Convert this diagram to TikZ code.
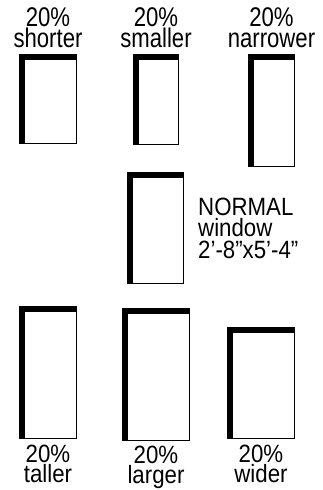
\documentclass[tikz,border=0pt]{standalone}
\usepackage{fontspec}
\usepackage{tikz}
\usetikzlibrary{positioning}

\newfontfamily\tallsans[FakeStretch=0.82]{Liberation Sans}
\newfontfamily\lowsans[FakeStretch=0.89]{Liberation Sans}

\tikzset{
  pane/.style={draw, fill=white, line width=1.2pt, inner sep=0pt,
    path picture={
      \fill[black] (path picture bounding box.north west) rectangle
        ([xshift=5.2pt]path picture bounding box.south west);
      \fill[black] (path picture bounding box.north west) rectangle
        ([yshift=-5.2pt]path picture bounding box.north east);
    }},
  toplbl/.style={inner sep=0pt, align=center,
    font=\tallsans\fontsize{27}{21.6}\selectfont},
  botlbl/.style={inner sep=0pt, align=center,
    font=\lowsans\fontsize{25}{20.2}\selectfont},
  sidelbl/.style={inner sep=0pt, align=left,
    font=\lowsans\fontsize{25}{21.6}\selectfont}
}

\begin{document}
\begin{tikzpicture}[x=1pt, y=-1pt]
  \useasboundingbox (0,0) rectangle (322,490);

  % top row
  \node[pane, minimum width=56.8pt, minimum height=88.8pt]  (shorter)  at (48,99) {};
  \node[pane, minimum width=44.8pt, minimum height=89.8pt]  (smaller)  at (156,99.5) {};
  \node[pane, minimum width=45.8pt, minimum height=111.8pt] (narrower) at (271.5,110.5) {};
  \node[toplbl, above=5.7pt of shorter]  (lshorter)  {20\%\\shorter};
  \node[toplbl, above=5.7pt of smaller]  (lsmaller)  {20\%\\smaller};
  \node[toplbl, above=5.7pt of narrower] (lnarrower) {20\%\\narrower};

  % the normal one
  \node[pane, minimum width=55.8pt, minimum height=110.8pt] (normal) at (155.5,228) {};
  \node[sidelbl, right=14pt of normal] (lnormal) {NORMAL\\window\\2’-8”x5’-4”};

  % bottom row
  \node[pane, minimum width=56.8pt, minimum height=131.8pt] (taller) at (48,372.5) {};
  \node[pane, minimum width=66.8pt, minimum height=131.8pt] (larger) at (156,374.5) {};
  \node[pane, minimum width=66.8pt, minimum height=110.8pt] (wider)  at (261,383) {};
  \node[botlbl, below=5.5pt of taller] (ltaller) {20\%\\taller};
  \node[botlbl, below=4.5pt of larger] (llarger) {20\%\\larger};
  \node[botlbl, below=5.5pt of wider]  (lwider)  {20\%\\wider};
\end{tikzpicture}
\end{document}
